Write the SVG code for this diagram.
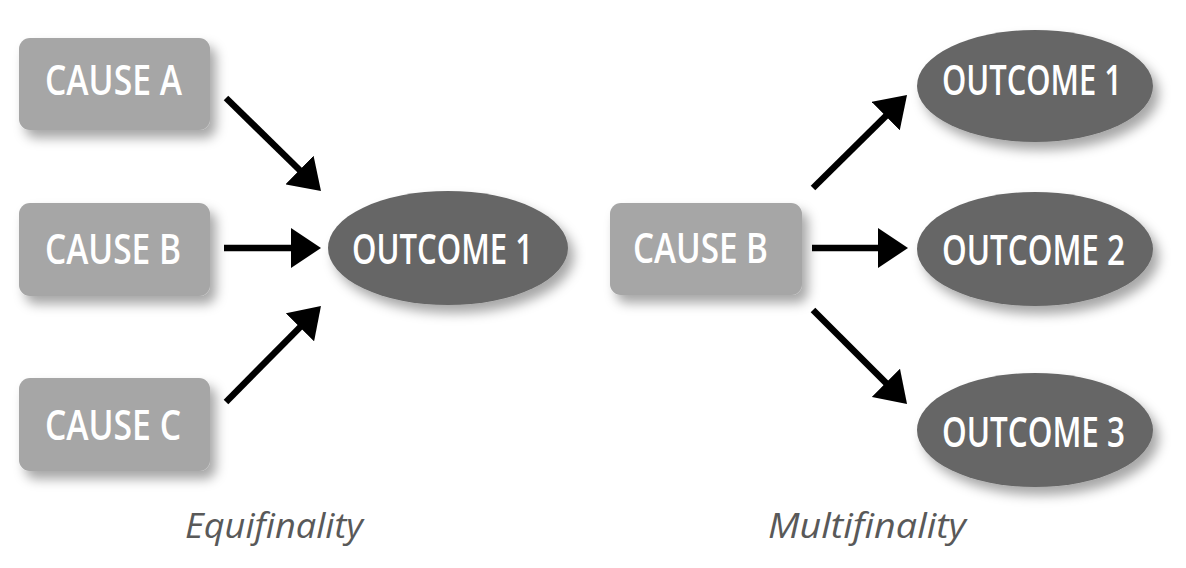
<svg xmlns="http://www.w3.org/2000/svg" width="1186" height="568" viewBox="0 0 1186 568">
<style>
.box{fill:#a6a6a6;}
.oval{fill:#666666;}
.lbl{font-family:"Open Sans","Liberation Sans",sans-serif;font-weight:600;font-size:42px;fill:#ffffff;}
.cap{font-family:"Open Sans","Liberation Sans",sans-serif;font-style:italic;font-size:35px;fill:#595959;}
.arr{stroke:#000000;stroke-width:6.5;fill:none;marker-end:url(#head);}
</style>
<defs>
<filter id="sh" x="-20%" y="-30%" width="150%" height="180%">
<feDropShadow dx="6" dy="8" stdDeviation="6" flood-color="#000000" flood-opacity="0.35"/>
</filter>
<marker id="head" markerUnits="userSpaceOnUse" viewBox="0 0 30 40" markerWidth="30" markerHeight="40" refX="10" refY="20" orient="auto">
<path d="M0,0 L30,20 L0,40 Z" fill="#000000"/>
</marker>
</defs>
<rect width="1186" height="568" fill="#ffffff"/>
<g id="cause-a"><rect class="box" x="19" y="38" width="191" height="92" rx="11" filter="url(#sh)"/><text class="lbl" x="45" y="95" textLength="137" lengthAdjust="spacingAndGlyphs">CAUSE A</text></g>
<g id="cause-b-left"><rect class="box" x="19" y="203" width="191" height="93" rx="11" filter="url(#sh)"/><text class="lbl" x="45" y="264" textLength="136" lengthAdjust="spacingAndGlyphs">CAUSE B</text></g>
<g id="cause-c"><rect class="box" x="19" y="378" width="191" height="93" rx="11" filter="url(#sh)"/><text class="lbl" x="45" y="440" textLength="136" lengthAdjust="spacingAndGlyphs">CAUSE C</text></g>
<g id="outcome-1-left"><ellipse class="oval" cx="448" cy="248" rx="120" ry="57" filter="url(#sh)"/><text class="lbl" x="352" y="264" textLength="181" lengthAdjust="spacingAndGlyphs">OUTCOME 1</text></g>
<g id="cause-b-right"><rect class="box" x="610" y="203" width="192" height="92" rx="11" filter="url(#sh)"/><text class="lbl" x="633" y="263" textLength="135" lengthAdjust="spacingAndGlyphs">CAUSE B</text></g>
<g id="outcome-1-right"><ellipse class="oval" cx="1035" cy="86" rx="118" ry="56" filter="url(#sh)"/><text class="lbl" x="942" y="95" textLength="180" lengthAdjust="spacingAndGlyphs">OUTCOME 1</text></g>
<g id="outcome-2"><ellipse class="oval" cx="1035" cy="249" rx="118" ry="57" filter="url(#sh)"/><text class="lbl" x="942" y="265" textLength="183" lengthAdjust="spacingAndGlyphs">OUTCOME 2</text></g>
<g id="outcome-3"><ellipse class="oval" cx="1035" cy="430" rx="118" ry="57" filter="url(#sh)"/><text class="lbl" x="942" y="447" textLength="183" lengthAdjust="spacingAndGlyphs">OUTCOME 3</text></g>
<g id="connectors">
<line class="arr" x1="226" y1="98" x2="306.7" y2="177"/>
<line class="arr" x1="224" y1="248" x2="301" y2="248"/>
<line class="arr" x1="226" y1="402" x2="306.9" y2="320.2"/>
<line class="arr" x1="813" y1="188" x2="892.8" y2="109.1"/>
<line class="arr" x1="812" y1="248" x2="888" y2="248"/>
<line class="arr" x1="813" y1="310" x2="892.9" y2="389.9"/>
</g>
<g id="captions">
<text class="cap" x="185" y="538" textLength="178" lengthAdjust="spacingAndGlyphs">Equifinality</text>
<text class="cap" x="768" y="538" textLength="198" lengthAdjust="spacingAndGlyphs">Multifinality</text>
</g>
</svg>
